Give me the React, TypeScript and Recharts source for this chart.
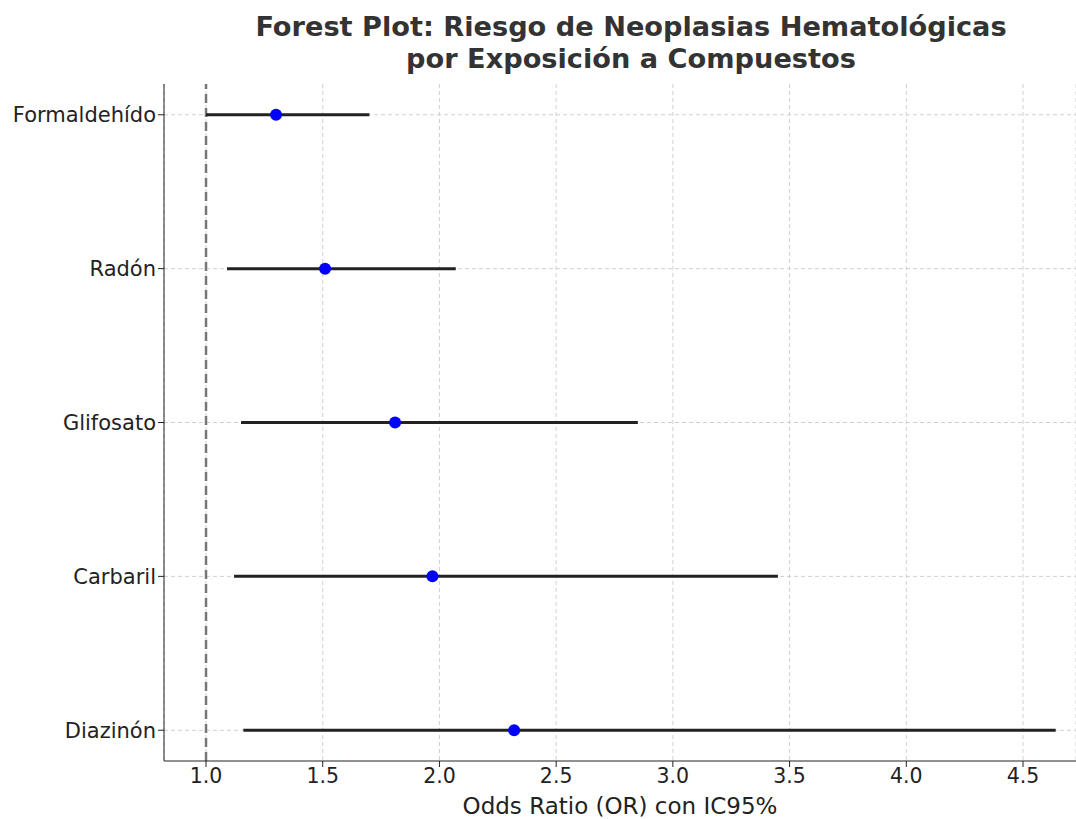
import {
  ScatterChart,
  Scatter,
  XAxis,
  YAxis,
  CartesianGrid,
  ReferenceLine,
  Label,
} from "recharts";

const compounds = ["Formaldehído", "Radón", "Glifosato", "Carbaril", "Diazinón"];
const oddsRatio = [1.3, 1.51, 1.81, 1.97, 2.32];
const ciLower = [1.0, 1.09, 1.15, 1.12, 1.16];
const ciUpper = [1.7, 2.07, 2.85, 3.45, 4.64];
const xTicks = [1.0, 1.5, 2.0, 2.5, 3.0, 3.5, 4.0, 4.5];
const yTicks = [0, 1, 2, 3, 4];

const points = compounds.map((name, i) => ({ name, x: oddsRatio[i], y: i }));
const intervals = compounds.map((name, i) => [
  { x: ciLower[i], y: i },
  { x: ciUpper[i], y: i },
]);

export default function App() {
  return (
    <div
      style={{
        position: "absolute",
        left: 0,
        top: 0,
        width: 1076,
        height: 819,
        fontFamily: "DejaVu Sans",
        background: "#fff",
        overflow: "hidden",
      }}
    >
      <div
        style={{
          position: "absolute",
          left: 186,
          width: 890,
          top: 11,
          textAlign: "center",
          fontWeight: "bold",
          fontSize: 27.2,
          lineHeight: "32px",
          color: "#333",
        }}
      >
        Forest Plot: Riesgo de Neoplasias Hematológicas
        <br />
        por Exposición a Compuestos
      </div>
      <ScatterChart
        width={1076}
        height={819}
        margin={{ top: 84, right: 0, bottom: 0, left: 0 }}
      >
        <CartesianGrid stroke="#d0d0d0" strokeDasharray="4 3" horizontal={false} />
        {/* horizontal grid only at the category rows */}
        {yTicks.map((t) => (
          <ReferenceLine
            key={"g" + t}
            y={t}
            stroke="#d0d0d0"
            strokeDasharray="4 3"
          />
        ))}
        <XAxis
          type="number"
          dataKey="x"
          domain={[0.82, 4.727]}
          ticks={xTicks}
          tickFormatter={(v: number) => v.toFixed(1)}
          allowDataOverflow
          height={58}
          tick={{ fill: "#222", fontSize: 20.5 }}
          stroke="#222"
          tickSize={6}
          tickMargin={1}
        >
          <Label
            value="Odds Ratio (OR) con IC95%"
            position="insideBottom"
            offset={5}
            style={{ fill: "#222", fontSize: 23 }}
          />
        </XAxis>
        <YAxis
          type="number"
          dataKey="y"
          domain={[-0.2, 4.2]}
          reversed
          ticks={yTicks}
          tickFormatter={(v: number) => compounds[v] ?? ""}
          allowDataOverflow
          width={164}
          tick={{ fill: "#222", fontSize: 21 }}
          stroke="#222"
          tickSize={6}
        />
        <ReferenceLine
          x={1}
          stroke="#777"
          strokeWidth={2.5}
          strokeDasharray="9 5"
        />
        {intervals.map((seg, i) => (
          <Scatter
            key={compounds[i]}
            data={seg}
            line={{ stroke: "#222", strokeWidth: 3 }}
            shape={() => <g />}
            isAnimationActive={false}
          />
        ))}
        <Scatter
          data={points}
          isAnimationActive={false}
          shape={(p: any) => (
            <circle cx={p.cx} cy={p.cy} r={6} fill="#0000ff" />
          )}
        />
      </ScatterChart>
    </div>
  );
}
